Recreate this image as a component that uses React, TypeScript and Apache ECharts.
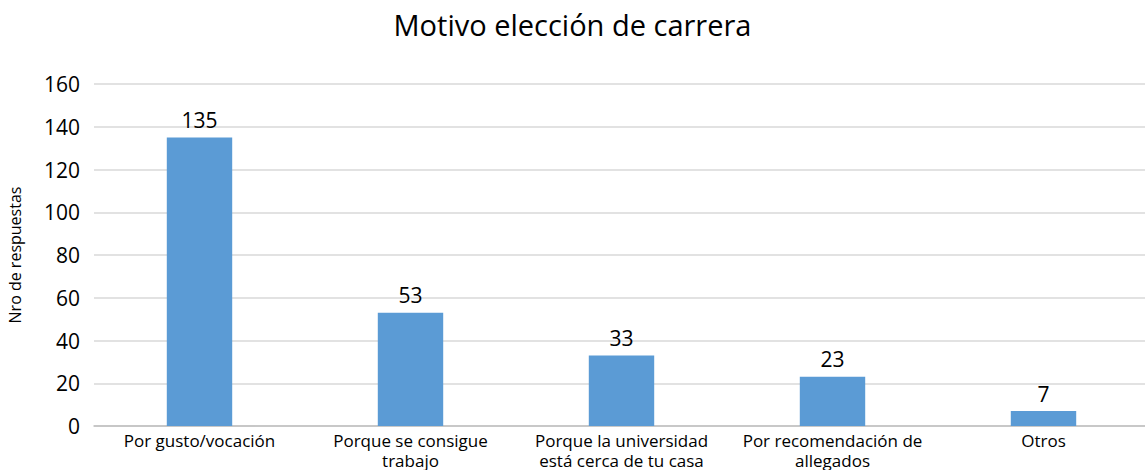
import React, { useEffect, useRef } from "react";
import * as echarts from "echarts";

const categories = [
  "Por gusto/vocación",
  "Porque se consigue\ntrabajo",
  "Porque la universidad\nestá cerca de tu casa",
  "Por recomendación de\nallegados",
  "Otros",
];
const values = [135, 53, 33, 23, 7];
const yTicks = { min: 0, max: 160, interval: 20 };

export default function App() {
  const ref = useRef<HTMLDivElement>(null);
  useEffect(() => {
    if (!ref.current) return;
    const chart = echarts.init(ref.current, null, { renderer: "svg" });
    const font = "'Open Sans', 'Noto Sans', sans-serif";
    chart.setOption({
      animation: false,
      textStyle: { fontFamily: font },
      title: {
        text: "Motivo elección de carrera",
        left: "center",
        top: 5,
        textStyle: { fontFamily: font, fontSize: 29, fontWeight: "normal", color: "#000" },
      },
      grid: {
        left: 94,
        right: -4,
        top: 84,
        bottom: 44,
        containLabel: false,
        outerBoundsMode: "none",
      },
      xAxis: {
        type: "category",
        data: categories,
        axisTick: { show: false },
        axisLine: { lineStyle: { color: "#bfbfbf", width: 1.5 } },
        axisLabel: {
          color: "#000",
          fontSize: 17,
          lineHeight: 20,
          margin: 4,
          interval: 0,
          fontFamily: font,
        },
      },
      yAxis: {
        type: "value",
        min: yTicks.min,
        max: yTicks.max,
        interval: yTicks.interval,
        name: "Nro de respuestas",
        nameLocation: "middle",
        nameGap: 71,
        nameTextStyle: { color: "#000", fontSize: 16, fontFamily: font },
        axisLine: { show: false },
        axisTick: { show: false },
        axisLabel: { color: "#000", fontSize: 21, margin: 14, fontFamily: font },
        splitLine: { lineStyle: { color: "#d9d9d9", width: 1.5 } },
      },
      series: [
        {
          type: "bar",
          data: values,
          barWidth: "31%",
          itemStyle: { color: "#5b9bd5" },
          label: {
            show: true,
            position: "top",
            distance: 7,
            color: "#000",
            fontSize: 21,
            fontFamily: font,
          },
        },
      ],
    });
    return () => chart.dispose();
  }, []);
  return (
    <div
      ref={ref}
      style={{ position: "fixed", left: 0, top: 0, width: 1145, height: 470, background: "#fff" }}
    />
  );
}
